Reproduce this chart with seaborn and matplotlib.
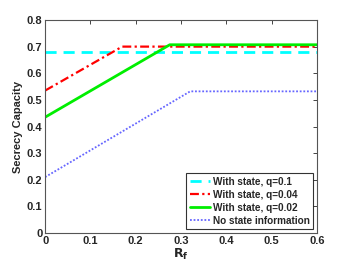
import numpy as np
import pandas as pd
import matplotlib
matplotlib.use("Agg")
import matplotlib.pyplot as plt
import seaborn as sns

sns.set_style("white")
plt.rcParams['font.family'] = ['Liberation Sans', 'DejaVu Sans']
plt.rcParams['font.weight'] = 'bold'

x_q01 = [0.0, 0.6]
y_q01 = [0.68, 0.68]
x_q004 = [0.0, 0.17, 0.6]
y_q004 = [0.535, 0.70, 0.70]
x_q002 = [0.0, 0.275, 0.6]
y_q002 = [0.435, 0.707, 0.707]
x_nos = [0.0, 0.32, 0.6]
y_nos = [0.21, 0.532, 0.532]

labels = ["With state, q=0.1", "With state, q=0.04", "With state, q=0.02", "No state information"]
colors = ["#00FFFF", "#FF0000", "#00EE00", "#6666FF"]
styles = [(0, (4, 2.5)), (0, (4, 1.5, 1, 1.5)), "-", (0, (1, 1))]
widths = [2.0, 1.6, 2.0, 1.3]

fig, ax = plt.subplots(figsize=(3.5, 2.63), dpi=100)
fig.subplots_adjust(left=0.129, right=0.906, top=0.924, bottom=0.114)

for xs, ys, lab, c, ls, lw in zip([x_q01, x_q004, x_q002, x_nos],
                                  [y_q01, y_q004, y_q002, y_nos],
                                  labels, colors, styles, widths):
    df = pd.DataFrame({"x": xs, "y": ys})
    sns.lineplot(data=df, x="x", y="y", ax=ax, color=c, linestyle=ls, linewidth=lw, label=lab)

ax.set_xlim(0, 0.6)
ax.set_ylim(0, 0.8)
ax.set_xticks(np.arange(0, 0.61, 0.1))
ax.set_xticklabels(["0", "0.1", "0.2", "0.3", "0.4", "0.5", "0.6"])
ax.set_yticks(np.arange(0, 0.81, 0.1))
ax.set_yticklabels(["0", "0.1", "0.2", "0.3", "0.4", "0.5", "0.6", "0.7", "0.8"])
ax.tick_params(direction="in", length=3, labelsize=8, top=True, right=True, width=0.6, pad=2)
for sp in ax.spines.values():
    sp.set_color("#555555")
    sp.set_linewidth(0.8)
    sp.set_visible(True)
ax.set_xlabel(r"$\mathbf{R_f}$", fontsize=9, labelpad=0.5)
ax.set_ylabel("Secrecy Capacity", fontsize=8, fontweight="bold", labelpad=3)

leg = ax.legend(loc="lower right", frameon=True, fancybox=False,
                handlelength=2.0, handletextpad=0.3, borderpad=0.35, labelspacing=0.3,
                borderaxespad=0.4, prop={"weight": "bold", "size": 7.2})
leg.get_frame().set_edgecolor("black")
leg.get_frame().set_linewidth(0.8)

fig.savefig("out.png", dpi=100)
